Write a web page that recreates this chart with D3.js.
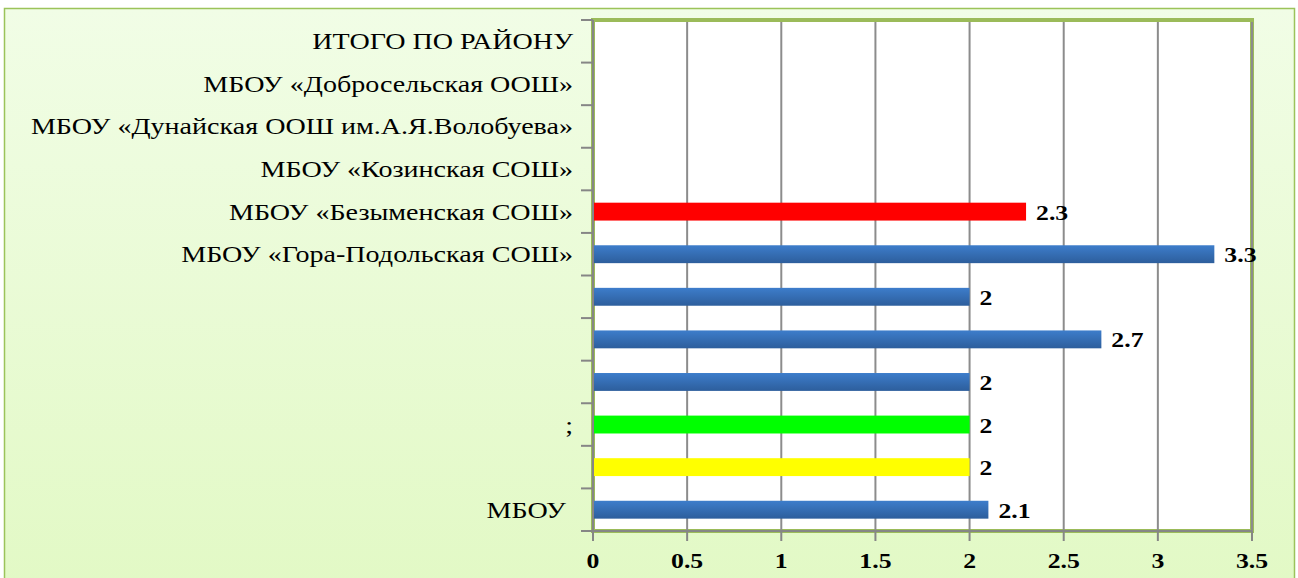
<meta charset="utf-8">
<style>
body { margin: 0; background: #fff; }
.cat { font-family: "Liberation Serif", "Times New Roman", Times, serif; font-size: 24px; fill: #000; }
.num { font-family: "Liberation Serif", "Times New Roman", Times, serif; font-size: 22px; font-weight: bold; fill: #000; }
</style>
<body>
<script src="https://cdnjs.cloudflare.com/ajax/libs/d3/7.8.5/d3.min.js"></script>
<script>

// categories top to bottom, as in the picture
var categories = [
  "ИТОГО ПО РАЙОНУ",
  "МБОУ «Добросельская ООШ»",
  "МБОУ «Дунайская ООШ им.А.Я.Волобуева»",
  "МБОУ «Козинская СОШ»",
  "МБОУ «Безыменская СОШ»",
  "МБОУ «Гора-Подольская СОШ»",
  "",
  "",
  "",
  ";",
  "",
  "МБОУ\u00a0"
];
var values = [null, null, null, null, 2.3, 3.3, 2, 2.7, 2, 2, 2, 2.1];
var barColors = ["", "", "", "", "#ff0000", "blue", "blue", "blue", "blue", "#00ff00", "#ffff00", "blue"];
var xTicks = [0, 0.5, 1, 1.5, 2, 2.5, 3, 3.5];

var width = 1298, height = 578;
var plot = {left: 593, right: 1252, top: 20, bottom: 531};
var stretch = 1.17; // the source picture is widened a bit

var svg = d3.select("body").append("svg")
    .attr("width", width)
    .attr("height", height);

var defs = svg.append("defs");
var bg = defs.append("linearGradient").attr("id", "bg")
    .attr("x1", 0).attr("y1", 0).attr("x2", 0).attr("y2", 1);
bg.append("stop").attr("offset", "0%").attr("stop-color", "#f1fde6");
bg.append("stop").attr("offset", "100%").attr("stop-color", "#e2f9c5");

var blue = defs.append("linearGradient").attr("id", "blue")
    .attr("x1", 0).attr("y1", 0).attr("x2", 0).attr("y2", 1);
blue.append("stop").attr("offset", "0%").attr("stop-color", "#3d7dcb");
blue.append("stop").attr("offset", "100%").attr("stop-color", "#2d5e9c");

// outer frame
svg.append("rect")
    .attr("x", 4.5).attr("y", 8.5)
    .attr("width", 1290).attr("height", 580)
    .attr("fill", "url(#bg)")
    .attr("stroke", "#9bc35a")
    .attr("stroke-width", 1.5);

var x = d3.scaleLinear().domain([0, 3.5]).range([plot.left, plot.right]);
var y = d3.scaleBand().domain(d3.range(categories.length)).range([plot.top, plot.bottom]);

// plot area
svg.append("rect")
    .attr("x", plot.left).attr("y", plot.top)
    .attr("width", plot.right - plot.left).attr("height", plot.bottom - plot.top)
    .attr("fill", "#fff")
    .attr("stroke", "#9bbb59")
    .attr("stroke-width", 4);

// gridlines
svg.selectAll("line.grid")
    .data(xTicks.slice(1))
  .enter().append("line")
    .attr("class", "grid")
    .attr("x1", function(d) { return x(d); })
    .attr("x2", function(d) { return x(d); })
    .attr("y1", plot.top + 2)
    .attr("y2", plot.bottom)
    .attr("stroke", "#8c8c8c")
    .attr("stroke-width", 2);

// bars
var bh = y.bandwidth() * 0.42;
var shown = values.map(function(v, i) { return {v: v, i: i}; }).filter(function(d) { return d.v != null; });

svg.selectAll("rect.bar")
    .data(shown)
  .enter().append("rect")
    .attr("class", "bar")
    .attr("x", x(0))
    .attr("y", function(d) { return y(d.i) + (y.bandwidth() - bh) / 2; })
    .attr("width", function(d) { return x(d.v) - x(0); })
    .attr("height", bh)
    .attr("fill", function(d) { return barColors[d.i] == "blue" ? "url(#blue)" : barColors[d.i]; });

svg.selectAll("text.val")
    .data(shown)
  .enter().append("text")
    .attr("class", "num")
    .attr("transform", function(d) {
      return "translate(" + (x(d.v) + 10) + "," + (y(d.i) + y.bandwidth() / 2 + 8) + ") scale(" + stretch + ",1)";
    })
    .text(function(d) { return d.v; });

// axes
var yAxis = svg.append("g");
yAxis.append("line")
    .attr("x1", plot.left).attr("x2", plot.left)
    .attr("y1", plot.top).attr("y2", plot.bottom)
    .attr("stroke", "#868686").attr("stroke-width", 2);
yAxis.selectAll("line.tick")
    .data(d3.range(categories.length + 1))
  .enter().append("line")
    .attr("x1", plot.left - 12).attr("x2", plot.left)
    .attr("y1", function(d) { return plot.top + d * y.step(); })
    .attr("y2", function(d) { return plot.top + d * y.step(); })
    .attr("stroke", "#868686").attr("stroke-width", 2);
yAxis.selectAll("text")
    .data(categories)
  .enter().append("text")
    .attr("class", "cat")
    .attr("transform", function(d, i) {
      return "translate(" + (plot.left - 20) + "," + (y(i) + y.bandwidth() / 2 + 8) + ") scale(" + stretch + ",1)";
    })
    .attr("text-anchor", "end")
    .text(function(d) { return d; });

var xAxis = svg.append("g");
xAxis.append("line")
    .attr("x1", plot.left).attr("x2", plot.right)
    .attr("y1", plot.bottom).attr("y2", plot.bottom)
    .attr("stroke", "#868686").attr("stroke-width", 2);
xAxis.selectAll("line.tick")
    .data(xTicks)
  .enter().append("line")
    .attr("x1", function(d) { return x(d); })
    .attr("x2", function(d) { return x(d); })
    .attr("y1", plot.bottom).attr("y2", plot.bottom + 10)
    .attr("stroke", "#868686").attr("stroke-width", 2);
xAxis.selectAll("text")
    .data(xTicks)
  .enter().append("text")
    .attr("class", "num")
    .attr("transform", function(d) {
      return "translate(" + x(d) + "," + (plot.bottom + 37) + ") scale(" + stretch + ",1)";
    })
    .attr("text-anchor", "middle")
    .text(function(d) { return d; });

</script>
</body>
